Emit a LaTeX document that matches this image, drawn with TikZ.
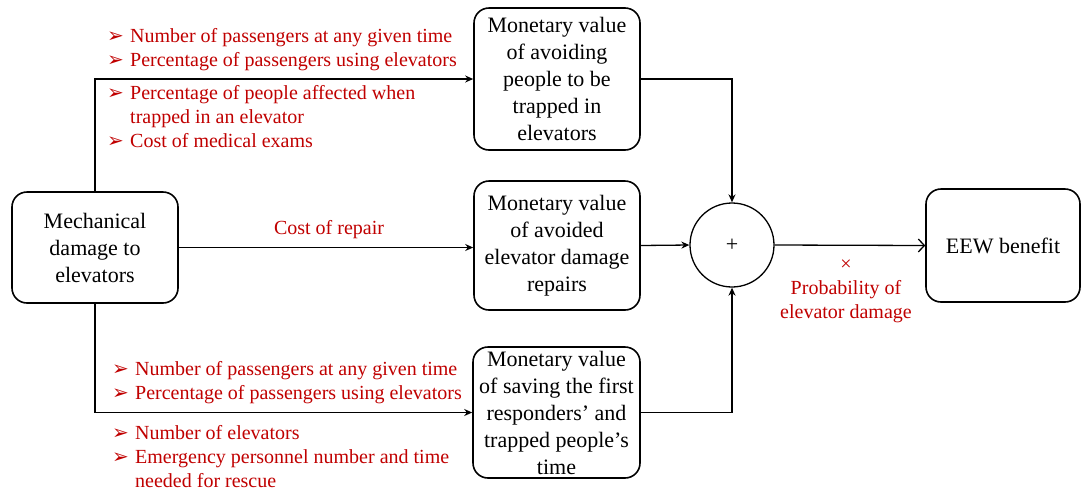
\documentclass[tikz,border=0pt]{standalone}
\usepackage{fontspec}
\setmainfont{Liberation Serif}
\newfontfamily\tnr{Liberation Serif}
\newfontfamily\dejavu{DejaVu Sans}
\usetikzlibrary{arrows.meta}
\definecolor{redtxt}{RGB}{192,0,0}
\newcommand{\bul}{\makebox[23pt][l]{\dejavu\fontsize{20}{20}\selectfont ➢}}
\newcommand{\bulgap}{\hspace*{23pt}}
\begin{document}
\begin{tikzpicture}[x=1pt,y=-1pt,
  box/.style={draw, line width=1.6pt, rounded corners=15pt, align=center, inner sep=0pt, font=\tnr\fontsize{22}{27}\selectfont},
  lbl/.style={text=redtxt, font=\tnr\fontsize{20}{24}\selectfont, align=left, inner sep=0pt, anchor=west},
  conn/.style={line width=1.3pt, -{Stealth[length=8pt,width=7pt]}},
  openarrow/.style={line width=1.3pt, -{Straight Barb[length=6pt,width=13pt,line width=1.3pt]}}]
\useasboundingbox (0,0) rectangle (1081,491);
\node[box, minimum width=166pt, minimum height=111pt] (mech) at (95,247.5) {Mechanical\\damage to\\elevators};
\node[box, minimum width=166pt, minimum height=142pt] (top) at (557,79) {Monetary value\\of avoiding\\people to be\\trapped in\\elevators};
\node[box, minimum width=166pt, minimum height=129pt] (mid) at (557,245.5) {Monetary value\\of avoided\\elevator damage\\repairs};
\node[box, minimum width=167pt, minimum height=131pt] (bot) at (556.5,412.5) {Monetary value\\of saving the first\\responders’ and\\trapped people’s\\time};
\node[draw, circle, line width=1.3pt, minimum size=84pt, inner sep=0pt, font=\tnr\fontsize{22}{27}\selectfont] (sum) at (732,245) {+};
\node[box, minimum width=154pt, minimum height=113pt] (eew) at (1003,245.5) {EEW benefit};

\draw[conn] (mech.north) |- (top.west);
\draw[conn] (mech.east) -- (mech.east -| mid.west);
\draw[conn] (mech.south) |- (bot.west);
\draw[conn] (top.east) -| (sum.north);
\draw[conn] (mid.east) -- (sum.west);
\draw[conn] (bot.east) -| (sum.south);
\draw[openarrow] (sum.east) -- (eew.west);

\node[lbl] (l1) at (107,50) {\bul Number of passengers at any given time\\\bul Percentage of passengers using elevators};
\node[lbl] (l2) at (107,117) {\bul Percentage of people affected when\\\bulgap trapped in an elevator\\\bul Cost of medical exams};
\node[lbl, anchor=center] (l3) at (329,230) {Cost of repair};
\node[lbl] (l4) at (112,382.5) {\bul Number of passengers at any given time\\\bul Percentage of passengers using elevators};
\node[lbl] (l5) at (112,457) {\bul Number of elevators\\\bul Emergency personnel number and time\\\bulgap needed for rescue};
\node[lbl, anchor=center, align=center] (l6) at (846,291) {×\\Probability of\\elevator damage};
\end{tikzpicture}
\end{document}
